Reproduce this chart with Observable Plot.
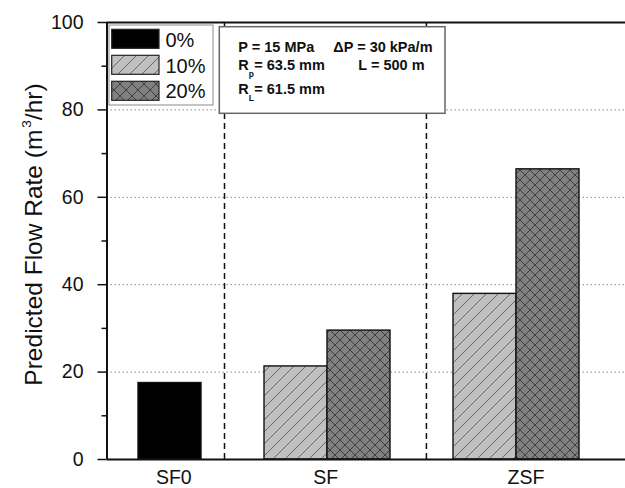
<!DOCTYPE html>
<html><head><meta charset="utf-8">
<script src="https://cdn.jsdelivr.net/npm/d3@7"></script>
<script src="https://cdn.jsdelivr.net/npm/@observablehq/plot@0.6"></script>
<style>html,body{margin:0;padding:0;background:#fff;overflow:hidden}</style>
</head><body><div id="chart"></div>
<script>
// ---- data ----
const categories = ["SF0", "SF", "SF", "ZSF", "ZSF"];
const series = ["0%", "10%", "20%", "10%", "20%"];
const values = [17.5, 21.3, 29.5, 37.9, 66.4];
const barSlot = [0, 2, 3, 5, 6];
const separators = [0.865, 4.07];
const groupLabels = ["SF0", "SF", "ZSF"];
const groupLabelPos = [0.06, 2.47, 5.65];
const yTicks = [0, 20, 40, 60, 80, 100];
const yMinorTicks = [10, 30, 50, 70, 90];
const gridValues = [20, 40, 60, 80];
const legendLabels = ["0%", "10%", "20%"];
const yTitle = ["Predicted Flow Rate (m", "3", "/hr)"];

// ---- styles ----
const fills = {"0%": "#000000", "10%": "url(#hatch10)", "20%": "url(#hatch20)"};
const legendFills = {"0%": "#000000", "10%": "url(#lhatch10)", "20%": "url(#lhatch20)"};
const font = "'Liberation Sans', Arial, Helvetica, sans-serif";

const rows = values.map((v, i) => ({cat: categories[i], series: series[i], value: v, slot: barSlot[i]}));

const plot = Plot.plot({
  width: 625, height: 488,
  marginLeft: 106.5, marginRight: 0, marginTop: 22, marginBottom: 29,
  x: {type: "linear", domain: [-1, 7.23]},
  y: {domain: [0, 100]},
  style: {fontFamily: font, background: "#fff", color: "#111", overflow: "visible"},
  marks: [
    Plot.ruleY(gridValues, {stroke: "#8a8a8a", strokeWidth: 1, strokeDasharray: "1.5,2.5"}),
    Plot.ruleX(separators, {y1: 0, y2: 100, stroke: "#111", strokeWidth: 1.5, strokeDasharray: "6,4"}),
    ...legendLabels.map(s => Plot.rect(rows.filter(r => r.series === s), {
      x1: d => d.slot - 0.5, x2: d => d.slot + 0.5, y1: 0, y2: "value",
      fill: fills[s], stroke: "#111", strokeWidth: 1.4
    })),
    Plot.ruleY([0, 100], {stroke: "#111", strokeWidth: 2}),
    Plot.ruleX([-1], {stroke: "#111", strokeWidth: 2}),
    Plot.axisY({ticks: yTicks, tickSize: 9, tickPadding: 14.5, fontSize: 19.5, strokeWidth: 1.5, label: null}),
    Plot.axisY({ticks: yMinorTicks, tickSize: 5, tickFormat: () => "", strokeWidth: 1.5, label: null}),
    Plot.axisX({ticks: groupLabelPos, tickSize: 0, tickPadding: 10.5, fontSize: 19.5,
      tickFormat: d => groupLabels[groupLabelPos.indexOf(d)], label: null})
  ]
});

const svg = d3.select(plot);
const defs = svg.insert("defs", ":first-child");
function hatch(id, s, bg, line, cross, sw) {
  const p = defs.append("pattern").attr("id", id).attr("patternUnits", "userSpaceOnUse")
    .attr("width", s).attr("height", s);
  p.append("rect").attr("width", s).attr("height", s).attr("fill", bg);
  let d = `M0,${s}L${s},0M${-s/4},${s/4}L${s/4},${-s/4}M${3*s/4},${5*s/4}L${5*s/4},${3*s/4}`;
  if (cross) d += `M0,0L${s},${s}M${-s/4},${3*s/4}L${s/4},${5*s/4}M${3*s/4},${-s/4}L${5*s/4},${s/4}`;
  p.append("path").attr("d", d).attr("stroke", line).attr("stroke-width", sw).attr("fill", "none");
}
hatch("hatch10", 12, "#c0c0c0", "#505050", false, 0.8);
hatch("hatch20", 10, "#808080", "#383838", true, 0.9);
hatch("lhatch10", 12, "#c0c0c0", "#505050", false, 0.8);
hatch("lhatch20", 12, "#808080", "#383838", true, 0.9);

// y-axis title
const t = svg.append("text").attr("transform", "translate(41.7,234.5) rotate(-90)")
  .attr("text-anchor", "middle").attr("font-size", 24.5).attr("fill", "#111").attr("font-family", font);
t.append("tspan").text(yTitle[0]);
t.append("tspan").attr("font-size", 13.5).attr("dy", -10.5).attr("dx", 2).text(yTitle[1]);
t.append("tspan").attr("dy", 10.5).text(yTitle[2]);

// legend
const lg = svg.append("g").attr("font-family", font).attr("text-anchor", "start");
lg.append("rect").attr("x", 109).attr("y", 25).attr("width", 104).attr("height", 80)
  .attr("fill", "#fff").attr("stroke", "#8a8a8a").attr("stroke-width", 1);
legendLabels.forEach((s, i) => {
  lg.append("rect").attr("x", 111.7).attr("y", 29.3 + i * 26).attr("width", 47.3).attr("height", 19)
    .attr("fill", legendFills[s]).attr("stroke", "#222").attr("stroke-width", 1.2);
  lg.append("text").attr("x", 165.5).attr("y", 47 + i * 25.5).attr("font-size", 20).attr("fill", "#111").text(s);
});

// annotation box
const an = svg.append("g").attr("font-family", font).attr("font-weight", "bold").attr("font-size", 14.5)
  .attr("fill", "#111").attr("text-anchor", "start");
an.append("rect").attr("x", 219.3).attr("y", 26.7).attr("width", 225.7).attr("height", 86.6)
  .attr("fill", "#fff").attr("stroke", "#666").attr("stroke-width", 1.5);
an.append("text").attr("x", 238.3).attr("y", 51.7).text("P = 15 MPa");
an.append("text").attr("x", 333.3).attr("y", 51.7).text("\u0394P = 30 kPa/m");
an.append("text").attr("x", 238.3).attr("y", 70).text("R");
an.append("text").attr("x", 248.8).attr("y", 76.5).attr("font-size", 8.5).text("p");
an.append("text").attr("x", 254.3).attr("y", 70).text("= 63.5 mm");
an.append("text").attr("x", 358.3).attr("y", 70).text("L = 500 m");
an.append("text").attr("x", 238.3).attr("y", 94.3).text("R");
an.append("text").attr("x", 248.8).attr("y", 100.8).attr("font-size", 8.5).text("L");
an.append("text").attr("x", 254.3).attr("y", 94.3).text("= 61.5 mm");

document.getElementById("chart").appendChild(plot);
</script></body></html>
